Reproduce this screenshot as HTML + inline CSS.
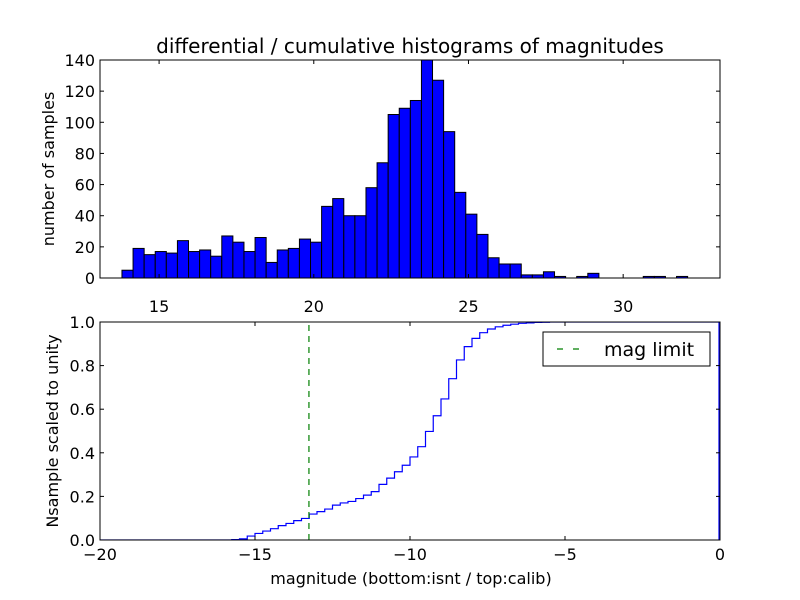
<!DOCTYPE html>
<html><head><meta charset="utf-8"><style>
body{margin:0;background:#fff}
svg{display:block;font-family:"DejaVu Sans","Liberation Sans",sans-serif}
</style></head><body>
<svg id="c" width="800" height="600" viewBox="0 0 800 600">
<rect width="800" height="600" fill="#fff"/>
<defs><clipPath id="clipB"><rect x="100" y="322" width="620" height="218"/></clipPath></defs>
<g id="topAx"></g>
<g id="botAx"></g>
<text x="410" y="53" font-size="20" text-anchor="middle">differential / cumulative histograms of magnitudes</text>
<text x="0" y="0" font-size="16" text-anchor="middle" transform="translate(54,169) rotate(-90)">number of samples</text>
<text x="0" y="0" font-size="16" text-anchor="middle" transform="translate(58,431) rotate(-90)">Nsample scaled to unity</text>
<text x="411" y="584" font-size="16" text-anchor="middle">magnitude (bottom:isnt / top:calib)</text>
<g>
<rect x="543" y="332" width="167" height="34" fill="#fff" stroke="#000" stroke-width="1"/>
<line x1="557" y1="349" x2="584" y2="349" stroke="#007f00" stroke-width="1.2" stroke-dasharray="6,10"/>
<text x="604" y="356" font-size="19">mag limit</text>
</g>
</svg>
<script>
// Top histogram data
const histCounts=[5,19,15,17,16,24,17,18,14,27,23,17,26,10,18,19,25,23,46,51,40,40,58,74,105,109,114,140,127,94,55,41,28,13,9,9,2,2,4,1,0,1,3,0,0,0,0,1,1,0,1];
const histStart=13.80;
const histBinWidth=0.3585;
const topXTicks=[15,20,25,30];
const topYTicks=[0,20,40,60,80,100,120,140];
// Bottom cumulative data (80 bins from -20 to 0)
const cumStart=-20;
const cumBinWidth=0.25;
const cumValues=[0,0,0,0,0,0,0,0,0,0,0,0,0,0,0,0,0,0.002,0.005,0.018,0.03,0.041,0.052,0.066,0.076,0.089,0.099,0.119,0.13,0.142,0.16,0.17,0.177,0.19,0.206,0.222,0.255,0.284,0.313,0.343,0.381,0.428,0.498,0.57,0.647,0.74,0.826,0.887,0.925,0.951,0.968,0.978,0.985,0.99,0.994,0.996,0.998,0.999,1,1,1,1,1,1,1,1,1,1,1,1,1,1,1,1,1,1,1,1,1,1];
const botXTicks=[-20,-15,-10,-5,0];
const botYTicks=[0,0.2,0.4,0.6,0.8,1.0];
const magLimit=-13.26;

const NS='http://www.w3.org/2000/svg';
function mk(tag,attrs,parent){const e=document.createElementNS(NS,tag);for(const k in attrs)e.setAttribute(k,attrs[k]);parent.appendChild(e);return e;}
const L=100,R=720;
const tx=v=>L+(v-13.09)/(33.13-13.09)*(R-L);
const ty=v=>278-v/140*218;
const bx=v=>L+(v+20)/20*(R-L);
const by=v=>540-v*218;
const gTop=document.getElementById('topAx'),gBot=document.getElementById('botAx');

histCounts.forEach((c,i)=>{
 const x0=tx(histStart+i*histBinWidth),x1=tx(histStart+(i+1)*histBinWidth);
 if(c<=0)return;
 const r=mk('rect',{x:x0,y:ty(c),width:x1-x0,height:ty(0)-ty(c),fill:'#0000ff',stroke:'#000','stroke-width':1},gTop);
 
 
});

function axes(g,y0,y1,xt,xf,yt,yf,labelY,fmt){
 mk('rect',{x:L,y:y0,width:R-L,height:y1-y0,fill:'none',stroke:'#000','stroke-width':1},g);
 xt.forEach(v=>{const x=xf(v);
  mk('line',{x1:x,y1:y1,x2:x,y2:y1-4,stroke:'#000'},g);
  mk('line',{x1:x,y1:y0,x2:x,y2:y0+4,stroke:'#000'},g);
  const t=mk('text',{x:x,y:labelY,'font-size':16,'text-anchor':'middle'},g);
  t.textContent=(v<0?'\u2212'+(-v):String(v));
  
  });
 yt.forEach(v=>{const y=yf(v);
  mk('line',{x1:L,y1:y,x2:L+4,y2:y,stroke:'#000'},g);
  mk('line',{x1:R,y1:y,x2:R-4,y2:y,stroke:'#000'},g);
  const t=mk('text',{x:L-5,y:y+6,'font-size':16,'text-anchor':'end'},g);
  t.textContent=fmt(v);
  
  });
}
axes(gTop,60,278,topXTicks,tx,topYTicks,ty,312,v=>String(v));

let d='M'+bx(cumStart)+','+by(0);
cumValues.forEach((v,i)=>{const x0=bx(cumStart+i*cumBinWidth),x1=bx(cumStart+(i+1)*cumBinWidth);d+=' L'+x0+','+by(v)+' L'+x1+','+by(v);});
d+=' L'+(bx(cumStart+cumValues.length*cumBinWidth)-1)+','+by(1)+' L'+(bx(cumStart+cumValues.length*cumBinWidth)-1)+','+by(0);
const p=mk('path',{d:d,fill:'none',stroke:'#0000ff','stroke-width':1.2,'clip-path':'url(#clipB)'},gBot);


const ml=mk('line',{x1:bx(magLimit),y1:by(0),x2:bx(magLimit),y2:by(1),stroke:'#007f00','stroke-width':1.2,'stroke-dasharray':'6,5'},gBot);


axes(gBot,322,540,botXTicks,bx,botYTicks,by,560,v=>v.toFixed(1));
</script>
</body></html>
